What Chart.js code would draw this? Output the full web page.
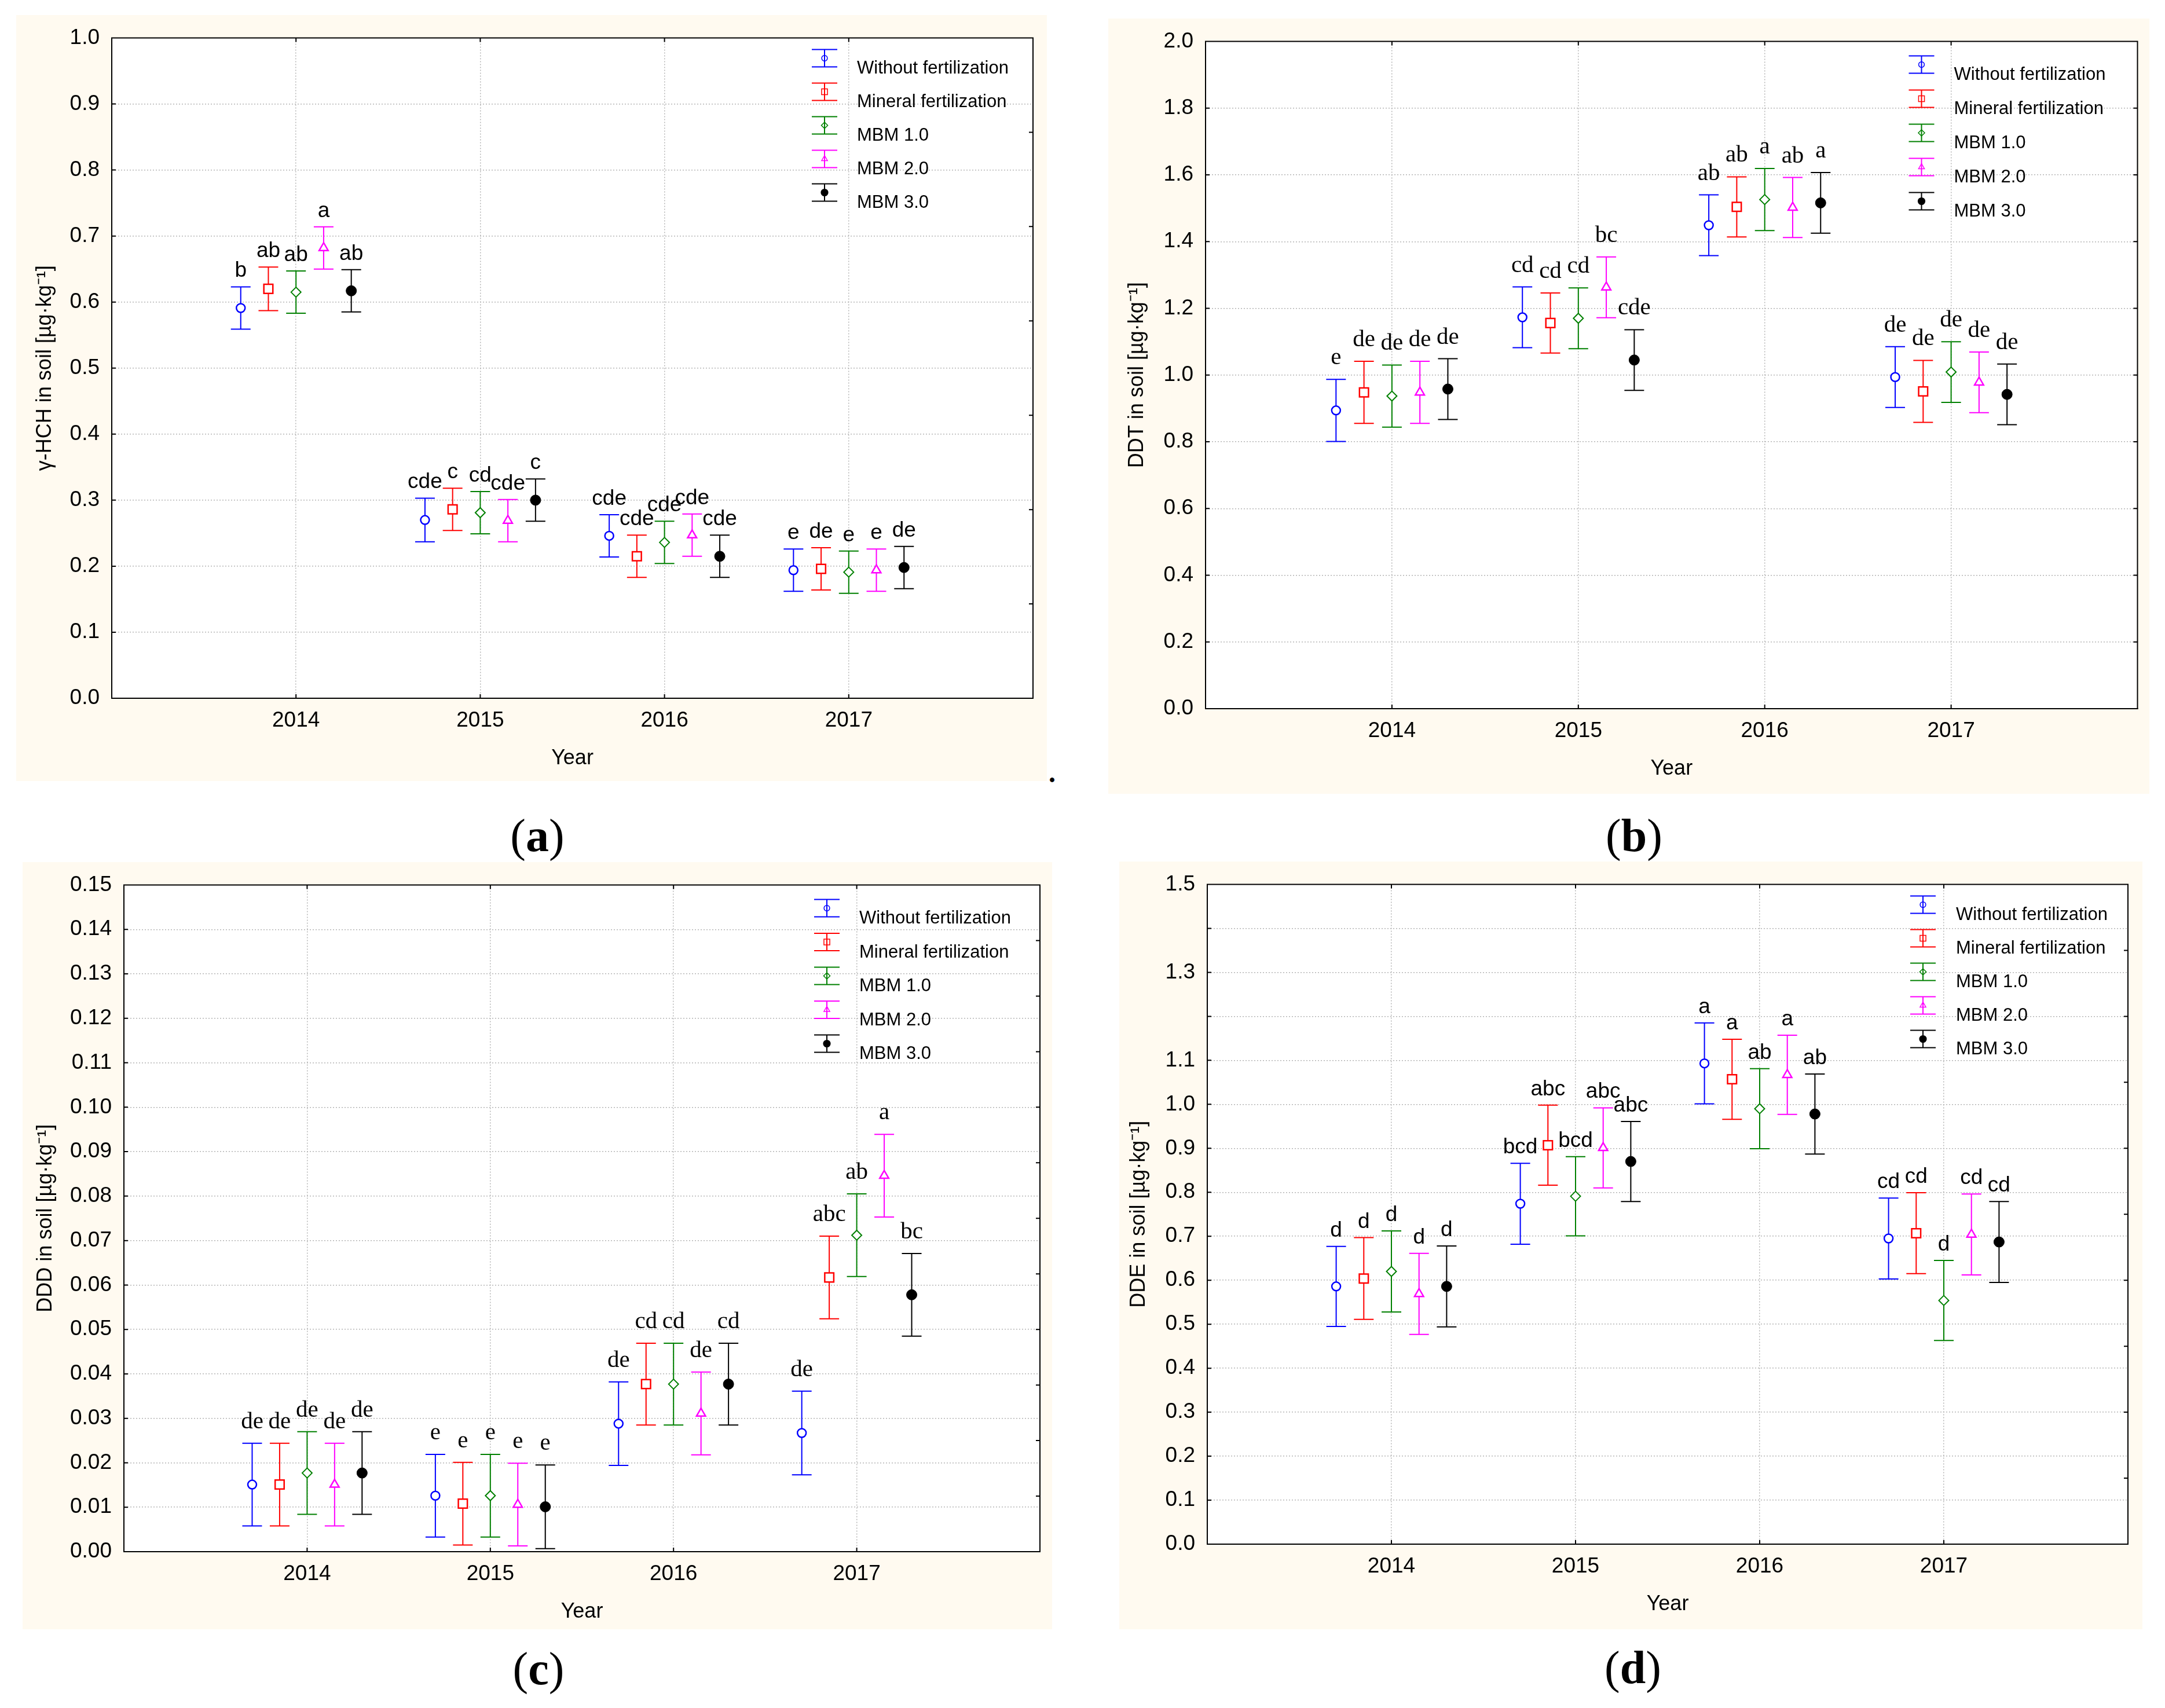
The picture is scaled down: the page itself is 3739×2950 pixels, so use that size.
<!DOCTYPE html>
<html>
<head>
<meta charset="utf-8">
<script src="https://cdn.jsdelivr.net/npm/chart.js@4.4.0/dist/chart.umd.min.js"></script>
<style>
html,body{margin:0;padding:0;background:#fff;}
#page{position:relative;width:3739px;height:2950px;background:#fff;overflow:hidden;}
.panel{position:absolute;background:#FFFAF0;}
.panel canvas{position:absolute;left:0;top:0;}
.plabel{position:absolute;font-family:'Liberation Serif','Times New Roman',serif;font-weight:bold;font-size:80px;line-height:1;transform:translate(-50%,-50%);color:#000;white-space:nowrap;}
.plabel .par{font-weight:normal;}
</style>
</head>
<body>
<div id="page"></div>
<script>
// ---------------- DATA ----------------
const years = [2014, 2015, 2016, 2017];
const treatments = ['Without fertilization', 'Mineral fertilization', 'MBM 1.0', 'MBM 2.0', 'MBM 3.0'];

// (a) gamma-HCH: rows = treatments, columns = years
const hchMean = [
  [0.591, 0.270, 0.246, 0.194],
  [0.620, 0.286, 0.215, 0.196],
  [0.615, 0.281, 0.236, 0.191],
  [0.682, 0.269, 0.247, 0.194],
  [0.617, 0.300, 0.215, 0.198]
];
const hchErr = [
  [0.032, 0.033, 0.032, 0.032],
  [0.033, 0.032, 0.032, 0.032],
  [0.032, 0.032, 0.032, 0.032],
  [0.032, 0.032, 0.032, 0.032],
  [0.032, 0.032, 0.032, 0.032]
];
const hchLetters = [
  ['b', 'cde', 'cde', 'e'],
  ['ab', 'c', 'cde', 'de'],
  ['ab', 'cd', 'cde', 'e'],
  ['a', 'cde', 'cde', 'e'],
  ['ab', 'c', 'cde', 'de']
];

// (b) DDT
const ddtMean = [
  [0.894, 1.173, 1.449, 0.994],
  [0.948, 1.156, 1.504, 0.951],
  [0.937, 1.170, 1.526, 1.009],
  [0.948, 1.263, 1.502, 0.978],
  [0.958, 1.045, 1.516, 0.942]
];
const ddtErr = [
  [0.093, 0.091, 0.091, 0.091],
  [0.093, 0.090, 0.090, 0.093],
  [0.093, 0.091, 0.093, 0.091],
  [0.093, 0.091, 0.090, 0.091],
  [0.091, 0.091, 0.091, 0.091]
];
const ddtLetters = [
  ['e', 'cd', 'ab', 'de'],
  ['de', 'cd', 'ab', 'de'],
  ['de', 'cd', 'a', 'de'],
  ['de', 'bc', 'ab', 'de'],
  ['de', 'cde', 'a', 'de']
];

// (c) DDD
const dddMean = [
  [0.0151, 0.0126, 0.0288, 0.0267],
  [0.0151, 0.0108, 0.0377, 0.0617],
  [0.0177, 0.0126, 0.0377, 0.0712],
  [0.0151, 0.0106, 0.0311, 0.0846],
  [0.0177, 0.0101, 0.0377, 0.0578]
];
const dddErr = [
  [0.0093, 0.0093, 0.0094, 0.0094],
  [0.0093, 0.0093, 0.0092, 0.0093],
  [0.0093, 0.0093, 0.0092, 0.0093],
  [0.0093, 0.0093, 0.0093, 0.0093],
  [0.0093, 0.0094, 0.0092, 0.0093]
];
const dddLetters = [
  ['de', 'e', 'de', 'de'],
  ['de', 'e', 'cd', 'abc'],
  ['de', 'e', 'cd', 'ab'],
  ['de', 'e', 'de', 'a'],
  ['de', 'e', 'cd', 'bc']
];

// (d) DDE
const ddeMean = [
  [0.586, 0.774, 1.093, 0.695],
  [0.604, 0.907, 1.057, 0.707],
  [0.620, 0.791, 0.990, 0.554],
  [0.569, 0.901, 1.067, 0.704],
  [0.586, 0.870, 0.978, 0.687]
];
const ddeErr = [
  [0.091, 0.092, 0.092, 0.092],
  [0.093, 0.091, 0.091, 0.092],
  [0.092, 0.090, 0.091, 0.091],
  [0.092, 0.091, 0.090, 0.092],
  [0.092, 0.091, 0.091, 0.092]
];
const ddeLetters = [
  ['d', 'bcd', 'a', 'cd'],
  ['d', 'abc', 'a', 'cd'],
  ['d', 'bcd', 'ab', 'd'],
  ['d', 'abc', 'a', 'cd'],
  ['d', 'abc', 'ab', 'cd']
];

// ---------------- STYLE / LAYOUT ----------------
const DODGE = 0.15;
const SANS = "'Liberation Sans', Arial, sans-serif";
const SERIF = "'Liberation Serif', 'Times New Roman', serif";
const TICK_FONT = 37;
const TITLE_FONT = 36;
const seriesStyle = [
  {color: '#0000FF', shape: 'circle', radius: 7.5, bw: 2.5, fill: '#FFFFFF'},
  {color: '#FF0000', shape: 'rect', radius: 11, bw: 2.5, fill: '#FFFFFF'},
  {color: '#008000', shape: 'rectRot', radius: 8.5, bw: 2, fill: '#FFFFFF'},
  {color: '#FF00FF', shape: 'triangle', radius: 9, bw: 2.5, fill: '#FFFFFF'},
  {color: '#000000', shape: 'circle', radius: 9, bw: 1, fill: '#000000'}
];

const panelDefs = [
  {box: [28, 26, 1808, 1349], plot: [193, 60, 1784, 1206],
   means: hchMean, errs: hchErr, letters: hchLetters,
   yTitle: 'γ-HCH in soil [µg·kg⁻¹]', yMin: 0, yMax: 1.0, yStep: 0.1, dec: 1, hide: [],
   rightDiv: 7, yTitleX: 50, letterFont: '37px ' + SANS, letterGap: 17,
   leg: {dx: 360, tx: 304, dy: 35, row: 58},
   label: 'a', labelPos: [928, 1443]},
  {box: [1914, 32, 3712, 1371], plot: [2082, 67, 3692, 1224],
   means: ddtMean, errs: ddtErr, letters: ddtLetters,
   yTitle: 'DDT in soil [µg·kg⁻¹]', yMin: 0, yMax: 2.0, yStep: 0.2, dec: 1, hide: [],
   rightDiv: 10, yTitleX: 50, letterFont: '41px ' + SERIF, letterGap: 26,
   leg: {dx: 373, tx: 317, dy: 40, row: 59},
   label: 'b', labelPos: [2822, 1443]},
  {box: [39, 1489, 1817, 2814], plot: [214, 1528, 1796, 2680],
   means: dddMean, errs: dddErr, letters: dddLetters,
   yTitle: 'DDD in soil [µg·kg⁻¹]', yMin: 0, yMax: 0.15, yStep: 0.01, dec: 2, hide: [],
   rightDiv: 12, yTitleX: 40, letterFont: '41px ' + SERIF, letterGap: 26,
   leg: {dx: 368, tx: 312, dy: 40, row: 58.5},
   label: 'c', labelPos: [930, 2882]},
  {box: [1933, 1488, 3700, 2814], plot: [2085, 1524, 3675, 2667],
   means: ddeMean, errs: ddeErr, letters: ddeLetters,
   yTitle: 'DDE in soil [µg·kg⁻¹]', yMin: 0, yMax: 1.5, yStep: 0.1, dec: 1, hide: [1.2, 1.4],
   rightDiv: 10, yTitleX: 34, letterFont: '37px ' + SANS, letterGap: 17,
   leg: {dx: 354, tx: 297, dy: 35, row: 58},
   label: 'd', labelPos: [2820, 2880]}
];

Chart.defaults.font.family = SANS;
Chart.defaults.color = '#000';

function markerPath(ctx, shape, x, y, r) {
  ctx.beginPath();
  if (shape === 'circle') {
    ctx.arc(x, y, r, 0, Math.PI * 2);
  } else if (shape === 'rect') {
    const s = r * Math.SQRT1_2;
    ctx.rect(x - s, y - s, 2 * s, 2 * s);
  } else if (shape === 'rectRot') {
    ctx.moveTo(x - r, y); ctx.lineTo(x, y - r); ctx.lineTo(x + r, y); ctx.lineTo(x, y + r);
  } else if (shape === 'triangle') {
    ctx.moveTo(x, y - r);
    ctx.lineTo(x + Math.sin(2 * Math.PI / 3) * r, y + 0.5 * r);
    ctx.lineTo(x - Math.sin(2 * Math.PI / 3) * r, y + 0.5 * r);
  }
  ctx.closePath();
}

function makePlugins(def) {
  const errorBars = {
    id: 'errorBars',
    beforeDatasetsDraw(chart) {
      const ctx = chart.ctx, xs = chart.scales.x, ys = chart.scales.y;
      ctx.save();
      ctx.lineWidth = 2;
      chart.data.datasets.forEach(ds => {
        ctx.strokeStyle = ds.pointBorderColor;
        ds.data.forEach((p, j) => {
          const e = ds.errors[j];
          const px = xs.getPixelForValue(p.x);
          const yh = ys.getPixelForValue(p.y + e);
          const yl = ys.getPixelForValue(p.y - e);
          ctx.beginPath();
          ctx.moveTo(px, yh); ctx.lineTo(px, yl);
          ctx.moveTo(px - 17, yh); ctx.lineTo(px + 17, yh);
          ctx.moveTo(px - 17, yl); ctx.lineTo(px + 17, yl);
          ctx.stroke();
        });
      });
      ctx.restore();
    }
  };
  const decor = {
    id: 'decor',
    beforeDraw(chart) {
      const {ctx, chartArea: a} = chart;
      ctx.save();
      ctx.fillStyle = '#FFFFFF';
      ctx.fillRect(a.left, a.top, a.right - a.left, a.bottom - a.top);
      ctx.restore();
    },
    afterDatasetsDraw(chart) {
      const ctx = chart.ctx, xs = chart.scales.x, ys = chart.scales.y, a = chart.chartArea;
      ctx.save();
      // significance letters
      ctx.fillStyle = '#000';
      ctx.font = def.letterFont;
      ctx.textAlign = 'center';
      ctx.textBaseline = 'alphabetic';
      chart.data.datasets.forEach(ds => {
        ds.data.forEach((p, j) => {
          const px = xs.getPixelForValue(p.x);
          const yh = ys.getPixelForValue(p.y + ds.errors[j]);
          ctx.fillText(ds.letters[j], px, yh - def.letterGap);
        });
      });
      // legend
      chart.data.datasets.forEach((ds, i) => {
        const st = seriesStyle[i];
        const mx = a.right - def.leg.dx;
        const my = a.top + def.leg.dy + i * def.leg.row;
        ctx.strokeStyle = st.color;
        ctx.lineWidth = 2;
        ctx.beginPath();
        ctx.moveTo(mx, my - 15); ctx.lineTo(mx, my + 15);
        ctx.moveTo(mx - 22, my - 15); ctx.lineTo(mx + 22, my - 15);
        ctx.moveTo(mx - 22, my + 15); ctx.lineTo(mx + 22, my + 15);
        ctx.stroke();
        markerPath(ctx, st.shape, mx, my, st.radius * 0.65);
        ctx.lineWidth = 1.5;
        if (st.fill === '#000000') { ctx.fillStyle = '#000'; ctx.fill(); }
        ctx.stroke();
        ctx.fillStyle = '#000';
        ctx.font = '31px ' + SANS;
        ctx.textAlign = 'left';
        ctx.textBaseline = 'middle';
        ctx.fillText(ds.label, a.right - def.leg.tx, my + 18);
      });
      ctx.restore();
    },
    afterDraw(chart) {
      const ctx = chart.ctx, xs = chart.scales.x, ys = chart.scales.y, a = chart.chartArea;
      ctx.save();
      ctx.strokeStyle = '#000';
      ctx.lineWidth = 2;
      ctx.strokeRect(a.left, a.top, a.right - a.left, a.bottom - a.top);
      const T = 7;
      ctx.beginPath();
      xs.ticks.forEach(t => {
        if (t.value <= xs.min || t.value >= xs.max) return;
        const px = xs.getPixelForValue(t.value);
        ctx.moveTo(px, a.bottom); ctx.lineTo(px, a.bottom - T);
        ctx.moveTo(px, a.top); ctx.lineTo(px, a.top + T);
      });
      ys.ticks.forEach(t => {
        if (t.value <= ys.min + 1e-9 || t.value >= ys.max - 1e-9) return;
        const py = ys.getPixelForValue(t.value);
        ctx.moveTo(a.left, py); ctx.lineTo(a.left + T, py);
      });
      for (let k = 1; k < def.rightDiv; k++) {
        const v = ys.min + k * (ys.max - ys.min) / def.rightDiv;
        const py = ys.getPixelForValue(v);
        ctx.moveTo(a.right, py); ctx.lineTo(a.right - T, py);
      }
      ctx.stroke();
      ctx.restore();
    }
  };
  return [errorBars, decor];
}

const page = document.getElementById('page');

function buildPanel(def) {
  const [bl, bt, br, bb] = def.box;
  const [pl, pt, pr, pb] = def.plot;
  const W = br - bl, H = bb - bt;
  const div = document.createElement('div');
  div.className = 'panel';
  Object.assign(div.style, {left: bl + 'px', top: bt + 'px', width: W + 'px', height: H + 'px'});
  const cv = document.createElement('canvas');
  cv.width = W; cv.height = H;
  cv.style.width = W + 'px'; cv.style.height = H + 'px';
  div.appendChild(cv);
  page.appendChild(div);

  const yW = pl - bl;
  const xH = bb - pb;
  const gridColorX = c => (c.tick && (c.tick.value <= 2013 || c.tick.value >= 2018)) ? 'rgba(0,0,0,0)' : '#b4b4b4';
  const gridColorY = c => (c.tick && (c.tick.value <= def.yMin + 1e-9 || c.tick.value >= def.yMax - 1e-9)) ? 'rgba(0,0,0,0)' : '#b4b4b4';

  const datasets = treatments.map((name, i) => ({
    label: name,
    data: years.map((yr, j) => ({x: yr + (i - 2) * DODGE, y: def.means[i][j]})),
    errors: def.errs[i],
    letters: def.letters[i],
    showLine: false,
    pointStyle: seriesStyle[i].shape,
    pointRadius: seriesStyle[i].radius,
    pointHoverRadius: seriesStyle[i].radius,
    pointBorderWidth: seriesStyle[i].bw,
    pointBorderColor: seriesStyle[i].color,
    pointBackgroundColor: seriesStyle[i].fill,
    borderColor: seriesStyle[i].color,
    backgroundColor: seriesStyle[i].fill
  }));

  new Chart(cv, {
    type: 'scatter',
    data: {datasets},
    options: {
      responsive: false,
      animation: false,
      devicePixelRatio: 1,
      events: [],
      layout: {padding: {left: 0, top: pt - bt, right: br - pr, bottom: 0}},
      plugins: {legend: {display: false}, tooltip: {enabled: false}},
      scales: {
        x: {
          type: 'linear', min: 2013, max: 2018,
          afterFit: s => { s.height = xH; },
          ticks: {
            stepSize: 1, autoSkip: false, maxRotation: 0, color: '#000',
            padding: 39 - TICK_FONT / 2,
            font: {size: TICK_FONT, lineHeight: 1, family: SANS},
            callback: v => years.includes(v) ? String(v) : ''
          },
          grid: {display: true, drawTicks: false, color: gridColorX, lineWidth: 1.5},
          border: {display: true, color: '#000', width: 2, dash: [2, 3]},
          title: {
            display: true, text: 'Year', color: '#000',
            font: {size: TITLE_FONT, lineHeight: 1, family: SANS},
            padding: {top: 0, bottom: (bb - (pb + 104)) - TITLE_FONT / 2}
          }
        },
        y: {
          type: 'linear', min: def.yMin, max: def.yMax,
          afterFit: s => { s.width = yW; },
          ticks: {
            stepSize: def.yStep, maxTicksLimit: 60, autoSkip: false, color: '#000',
            padding: 21,
            font: {size: TICK_FONT, lineHeight: 1, family: SANS},
            callback: v => def.hide.some(h => Math.abs(h - v) < 1e-6) ? '' : Number(v).toFixed(def.dec)
          },
          grid: {display: true, drawTicks: false, color: gridColorY, lineWidth: 1.5},
          border: {display: true, color: '#000', width: 2, dash: [2, 3]},
          title: {
            display: true, text: def.yTitle, color: '#000',
            font: {size: TITLE_FONT, lineHeight: 1, family: SANS},
            padding: {top: def.yTitleX - TITLE_FONT / 2, bottom: 0}
          }
        }
      }
    },
    plugins: makePlugins(def)
  });

  const lab = document.createElement('div');
  lab.className = 'plabel';
  const p1 = document.createElement('span'); p1.className = 'par'; p1.textContent = '(';
  const p2 = document.createElement('span'); p2.className = 'par'; p2.textContent = ')';
  lab.appendChild(p1);
  lab.appendChild(document.createTextNode(def.label));
  lab.appendChild(p2);
  lab.style.left = def.labelPos[0] + 'px';
  lab.style.top = def.labelPos[1] + 'px';
  page.appendChild(lab);
}

panelDefs.forEach(buildPanel);

const dot = document.createElement('div');
dot.className = 'plabel';
dot.style.fontSize = '48px';
dot.style.left = '1817px';
dot.style.top = '1335px';
dot.textContent = '.';
page.appendChild(dot);
</script>
</body>
</html>
